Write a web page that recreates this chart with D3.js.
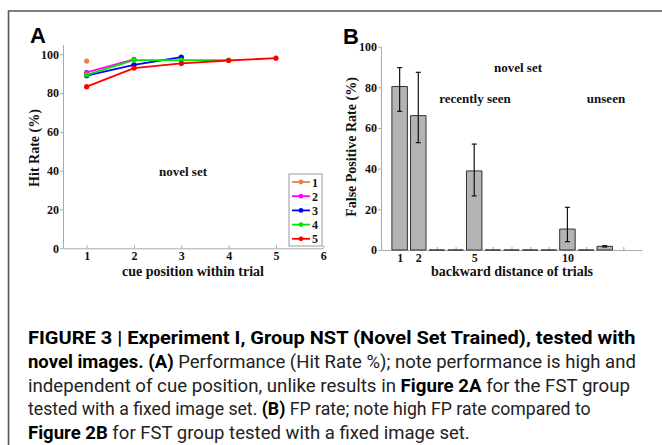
<!DOCTYPE html>
<html>
<head>
<meta charset="utf-8">
<script src="https://cdn.jsdelivr.net/npm/d3@7"></script>
<style>
  body { margin: 0; background: #fff; }
  svg { display: block; }
  .tick text { font-family: "Liberation Serif", serif; font-weight: bold; font-size: 12px; fill: #111; }
  .axis path, .axis line { stroke: #aaa; }
  .lab { font-family: "Liberation Serif", serif; font-weight: bold; font-size: 14px; fill: #111; }
  .panel { font-family: "Liberation Sans", Arial, sans-serif; font-weight: bold; font-size: 22px; fill: #000; }
  .cap { font-family: "Liberation Sans Narrow", "Roboto", "Liberation Sans", sans-serif; font-size: 18px; fill: #222; }
  .cap .b { font-weight: bold; fill: #000; }
</style>
</head>
<body>
<svg width="662" height="445"></svg>
<script>
  // DATA — panel A (hit rate by cue position, one series per trial length)
  const cuePositions = [1, 2, 3, 4, 5];
  const seriesNames = ["1", "2", "3", "4", "5"];
  const seriesColors = ["#e8804a", "#ff00ff", "#0000ff", "#00e600", "#ff0000"];
  const hitRate1 = [96.5];
  const hitRate2 = [90.7, 97.4];
  const hitRate3 = [89.0, 94.5, 98.5];
  const hitRate4 = [89.4, 97.0, 97.0, 97.0];
  const hitRate5 = [83.3, 92.9, 95.3, 96.8, 98.0];
  const hitTicks = [0, 20, 40, 60, 80, 100];
  const cueTicks = [1, 2, 3, 4, 5, 6];

  // DATA — panel B (false positive rate by backward distance)
  const distances = [1, 2, 3, 4, 5, 6, 7, 8, 9, 10, 11, 12];
  const fpRate = [80.4, 66.1, 0, 0, 38.9, 0, 0, 0, 0, 10.3, 0, 1.8];
  const fpErrLow = [68.2, 52.8, 0, 0, 26.6, 0, 0, 0, 0, 4.1, 0, 1.5];
  const fpErrHigh = [89.7, 87.4, 0, 0, 52.1, 0, 0, 0, 0, 21.0, 0, 2.1];
  const fpTicks = [0, 20, 40, 60, 80, 100];
  const distTicks = [1, 2, 3, 4, 5, 6, 7, 8, 9, 10, 11, 12, 13];
  const distLabels = [1, 2, 5, 10];

  // CAPTION
  const captionLines = [
    [["b", "FIGURE 3 | Experiment I, Group NST (Novel Set Trained), tested with"]],
    [["b", "novel images. (A)"], ["r", " Performance (Hit Rate %); note performance is high and"]],
    [["r", "independent of cue position, unlike results in "], ["b", "Figure 2A"], ["r", " for the FST group"]],
    [["r", "tested with a fixed image set. "], ["b", "(B)"], ["r", " FP rate; note high FP rate compared to"]],
    [["b", "Figure 2B"], ["r", " for FST group tested with a fixed image set."]]
  ];
  const captionWidths = [608, 608, 602, 563, 442];

  const svg = d3.select("svg");

  // FRAME
  svg.append("path")
    .attr("d", "M8.5,445 V11 H662")
    .attr("fill", "none")
    .attr("stroke", "#555")
    .attr("stroke-width", 1.6);

  // ---------- PANEL A ----------
  const xA = d3.scaleLinear().domain([0.5, 6]).range([63, 323.3]);
  const yA = d3.scaleLinear().domain([0, 105]).range([248.3, 44.6]);

  svg.append("g").attr("class", "axis")
    .attr("transform", `translate(0,${yA(0)})`)
    .call(d3.axisBottom(xA).tickValues(cueTicks).tickFormat(d3.format("d"))
      .tickSize(-3).tickPadding(3).tickSizeOuter(0));
  svg.append("g").attr("class", "axis")
    .attr("transform", `translate(${xA(0.5)},0)`)
    .call(d3.axisLeft(yA).tickValues(hitTicks).tickSize(3).tickPadding(1).tickSizeOuter(0));

  svg.append("text").attr("class", "panel").attr("x", 30).attr("y", 43).text("A");
  svg.append("text").attr("class", "lab").attr("text-anchor", "middle")
    .attr("x", 193).attr("y", 276).text("cue position within trial");
  svg.append("text").attr("class", "lab").attr("text-anchor", "middle")
    .attr("transform", `translate(39,148) rotate(-90)`).text("Hit Rate (%)");
  svg.append("text").attr("class", "lab").attr("text-anchor", "middle")
    .style("font-size", "13px")
    .attr("x", 183).attr("y", 176).text("novel set");

  const allHits = [hitRate1, hitRate2, hitRate3, hitRate4, hitRate5];
  const series = allHits.map((vals, i) => ({
    name: seriesNames[i],
    color: seriesColors[i],
    points: vals.map((v, j) => ({ x: cuePositions[j], y: v }))
  }));

  const line = d3.line().x(d => xA(d.x)).y(d => yA(d.y));
  const sg = svg.selectAll("g.series").data(series).enter().append("g").attr("class", "series");
  sg.append("path")
    .attr("d", d => line(d.points))
    .attr("fill", "none")
    .attr("stroke", d => d.color)
    .attr("stroke-width", 1.8);
  sg.selectAll("circle").data(d => d.points.map(p => ({ ...p, color: d.color })))
    .enter().append("circle")
    .attr("cx", d => xA(d.x)).attr("cy", d => yA(d.y)).attr("r", 2.6)
    .attr("fill", d => d.color);

  // legend
  const legend = svg.append("g").attr("transform", "translate(289,174)");
  legend.append("rect").attr("width", 33).attr("height", 72)
    .attr("fill", "#fff").attr("stroke", "#999").attr("stroke-width", 1);
  const li = legend.selectAll("g.li").data(series).enter().append("g")
    .attr("transform", (d, i) => `translate(0,${8 + i * 14.2})`);
  li.append("line").attr("x1", 3).attr("x2", 21).attr("stroke", d => d.color).attr("stroke-width", 1.8);
  li.append("circle").attr("cx", 12).attr("r", 2.4).attr("fill", d => d.color);
  li.append("text").attr("class", "lab").style("font-size", "12px")
    .attr("x", 23).attr("y", 4.5).text(d => d.name);

  // ---------- PANEL B ----------
  const xB = d3.scaleLinear().domain([0, 14]).range([381, 642]);
  const yB = d3.scaleLinear().domain([0, 100]).range([250, 46.7]);
  const barW = xB(0.83) - xB(0);

  svg.append("g").attr("class", "axis")
    .attr("transform", `translate(0,${yB(0)})`)
    .call(d3.axisBottom(xB).tickValues(distTicks).tickSize(-3).tickPadding(3).tickSizeOuter(0)
      .tickFormat(d => distLabels.includes(d) ? d : ""));
  svg.append("g").attr("class", "axis")
    .attr("transform", `translate(${xB(0)},0)`)
    .call(d3.axisLeft(yB).tickValues(fpTicks).tickSize(3).tickPadding(1).tickSizeOuter(0));

  svg.append("text").attr("class", "panel").attr("x", 343).attr("y", 44).text("B");
  svg.append("text").attr("class", "lab").attr("text-anchor", "middle")
    .attr("x", 512).attr("y", 276).text("backward distance of trials");
  svg.append("text").attr("class", "lab").attr("text-anchor", "middle")
    .attr("transform", `translate(356,147) rotate(-90)`).text("False Positive Rate (%)");
  svg.append("text").attr("class", "lab").attr("text-anchor", "middle").style("font-size", "13px")
    .attr("x", 518).attr("y", 72).text("novel set");
  svg.append("text").attr("class", "lab").attr("text-anchor", "middle").style("font-size", "13px")
    .attr("x", 475).attr("y", 103).text("recently seen");
  svg.append("text").attr("class", "lab").attr("text-anchor", "middle").style("font-size", "13px")
    .attr("x", 606).attr("y", 103).text("unseen");

  // bars drawn as closed paths so zero-height bars still show as flat dashes
  const bars = distances.map((d, i) => ({ x: d, v: fpRate[i], lo: fpErrLow[i], hi: fpErrHigh[i] }));
  svg.selectAll("path.bar").data(bars).enter().append("path").attr("class", "bar")
    .attr("d", d => {
      const x0 = xB(d.x) - barW / 2, x1 = xB(d.x) + barW / 2;
      return `M${x0},${yB(0)}V${yB(d.v)}H${x1}V${yB(0)}Z`;
    })
    .attr("fill", "#b4b4b4")
    .attr("stroke", "#333")
    .attr("stroke-width", 1);

  const eb = svg.selectAll("g.err").data(bars.filter(d => d.hi > d.lo)).enter().append("g")
    .attr("stroke", "#111").attr("stroke-width", 1.2);
  eb.append("line").attr("x1", d => xB(d.x)).attr("x2", d => xB(d.x))
    .attr("y1", d => yB(d.lo)).attr("y2", d => yB(d.hi));
  eb.append("line").attr("x1", d => xB(d.x) - 2.5).attr("x2", d => xB(d.x) + 2.5)
    .attr("y1", d => yB(d.lo)).attr("y2", d => yB(d.lo));
  eb.append("line").attr("x1", d => xB(d.x) - 2.5).attr("x2", d => xB(d.x) + 2.5)
    .attr("y1", d => yB(d.hi)).attr("y2", d => yB(d.hi));

  // ---------- CAPTION ----------
  // each line is squeezed horizontally to the width it has in the original
  const cap = svg.append("g").attr("class", "cap");
  captionLines.forEach((parts, i) => {
    const t = cap.append("text");
    parts.forEach(([style, s]) => {
      t.append("tspan").attr("class", style === "b" ? "b" : null).text(s);
    });
    const w = t.node().getComputedTextLength();
    const k = w > 0 ? captionWidths[i] / w : 1;
    t.attr("transform", `translate(28,${344 + i * 23.8}) scale(${k},1)`);
  });
</script>
</body>
</html>
